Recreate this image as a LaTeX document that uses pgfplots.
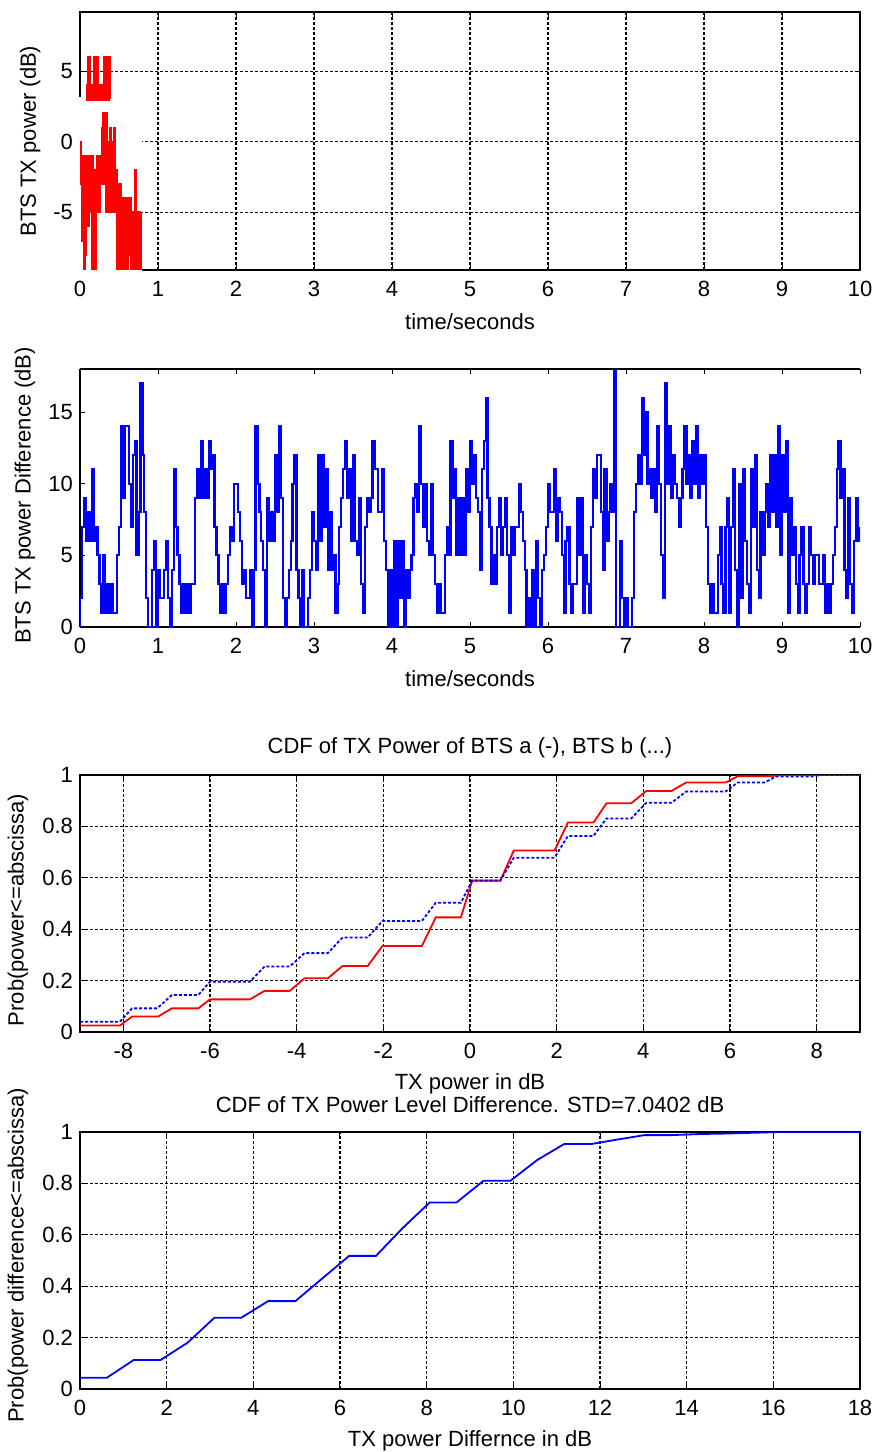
\documentclass[border=0pt]{standalone}
\usepackage{fontspec}
\setmainfont{Liberation Sans}
\usepackage{pgfplots}
\pgfplotsset{compat=1.18}

\pgfplotsset{
  matlab/.style={
    scale only axis, width=390pt, anchor=north west,
    font=\fontsize{11}{13}\selectfont,
    /pgf/number format/assume math mode=true,
    tick align=inside, major tick length=2.5pt,
    tick style={black, line width=0.5pt},
    axis line style={line width=0.65pt},
    grid style={black, line width=0.6pt, dash pattern=on 1.5pt off 1pt},
    xticklabel style={yshift=-2pt},
    x label style={at={(axis description cs:0.5,-0.2)}, anchor=center},
    title style={at={(axis description cs:0.5,1.058)}, anchor=center},
  },
}

\begin{document}
\begin{tikzpicture}
\useasboundingbox (0,0) rectangle (437.5pt,-726pt);

% --- BTS TX power vs time
\begin{axis}[matlab, at={(40pt,-6pt)}, height=129pt,
    xmin=0, xmax=10, ymin=-9.1, ymax=9.2,
    xtick={0,1,...,10}, ytick={-5,0,5}, grid=major, clip=false,
    xlabel={time/seconds}, ylabel={BTS TX power (dB)},
    y label style={at={(axis description cs:-0.064,0.5)}, anchor=center}]
\fill[white] (axis cs:-0.03,-9.35) rectangle (axis cs:0.79,3.2);
\addplot[red, line width=1.1pt, const plot] coordinates {
 (0.08,4) (0.09,3) (0.10,6) (0.11,3) (0.12,6) (0.13,3) (0.14,4) (0.15,3)
 (0.16,4) (0.17,3) (0.18,6) (0.19,3) (0.20,6) (0.21,3) (0.22,6) (0.23,4)
 (0.24,3) (0.25,4) (0.26,3) (0.27,4) (0.28,3) (0.29,4) (0.30,3) (0.31,6)
 (0.32,3) (0.33,6) (0.34,3) (0.35,6) (0.36,3) (0.37,6) (0.38,3)
};
\addplot[red, line width=1.1pt, const plot] coordinates {
 (0.00,0) (0.01,-3) (0.02,-1) (0.03,-7) (0.04,-1) (0.05,-9) (0.06,-2) (0.07,-8)
 (0.08,-1) (0.09,-5) (0.10,-2) (0.11,-6) (0.12,-1) (0.13,-5) (0.14,-2) (0.15,-9)
 (0.16,-1) (0.17,-5) (0.18,-2) (0.19,-9) (0.20,-2) (0.21,-5) (0.22,-1) (0.23,-4)
 (0.24,-2) (0.25,-5) (0.26,-1) (0.27,-3) (0.28,1) (0.29,-3) (0.30,2) (0.31,-2)
 (0.32,1) (0.33,-5) (0.34,2) (0.35,-3) (0.36,0) (0.37,-5) (0.38,1) (0.39,-3)
 (0.40,0) (0.41,-5) (0.42,-1) (0.43,-3) (0.44,1) (0.45,-5) (0.46,-2) (0.47,-9)
 (0.48,-3) (0.49,-8) (0.50,-4) (0.51,-9) (0.52,-3) (0.53,-7) (0.54,-4) (0.55,-9)
 (0.56,-4) (0.57,-8) (0.58,-5) (0.59,-9) (0.60,-4) (0.61,-9) (0.62,-5) (0.63,-8)
 (0.64,-4) (0.65,-9) (0.66,-5) (0.67,-7) (0.68,-5) (0.69,-9) (0.70,-5) (0.71,-2)
 (0.72,-6) (0.73,-9) (0.74,-5) (0.75,-8) (0.76,-5) (0.77,-9) (0.78,-5)
};
\end{axis}

% --- BTS TX power difference vs time
\begin{axis}[matlab, at={(40pt,-184.5pt)}, height=129pt,
    xmin=0, xmax=10, ymin=0, ymax=18,
    xtick={0,1,...,10}, ytick={0,5,10,15},
    axis x line*=box, axis y line*=left,
    xlabel={time/seconds}, ylabel={BTS TX power Difference (dB)},
    y label style={at={(axis description cs:-0.0705,0.51)}, anchor=center}]
\addplot[blue, line width=1.1pt, const plot] coordinates {
 (0,0) (0,2) (0.025,7) (0.05,9) (0.075,6) (0.1,8) (0.125,6) (0.15,11) (0.175,6)
 (0.2,7) (0.225,5) (0.25,3) (0.275,1) (0.3,5) (0.325,1) (0.35,3) (0.375,1)
 (0.4,3) (0.425,1) (0.45,1) (0.475,5) (0.5,7) (0.525,14) (0.55,9) (0.575,14)
 (0.6,14) (0.625,10) (0.65,7) (0.675,12) (0.7,13) (0.725,5) (0.75,8) (0.775,17)
 (0.8,12) (0.825,8) (0.85,2) (0.875,0) (0.9,0) (0.925,4) (0.95,6) (0.975,0)
 (1,4) (1.025,2) (1.05,2) (1.075,4) (1.1,6) (1.125,2) (1.15,0) (1.175,4)
 (1.2,11) (1.225,7) (1.25,5) (1.275,3) (1.3,1) (1.325,3) (1.35,1) (1.375,3)
 (1.4,1) (1.425,3) (1.45,3) (1.475,9) (1.5,11) (1.525,9) (1.55,13) (1.575,9)
 (1.6,11) (1.625,9) (1.65,13) (1.675,11) (1.7,12) (1.725,7) (1.75,5) (1.775,3)
 (1.8,1) (1.825,3) (1.85,1) (1.875,3) (1.9,5) (1.925,7) (1.95,6) (1.975,10)
 (2,10) (2.025,8) (2.05,6) (2.075,3) (2.1,4) (2.125,2) (2.15,2) (2.175,4)
 (2.2,0) (2.225,4) (2.25,14) (2.275,10) (2.3,8) (2.325,6) (2.35,4) (2.375,0)
 (2.4,9) (2.425,6) (2.45,8) (2.475,6) (2.5,12) (2.525,8) (2.55,14) (2.575,9)
 (2.6,2) (2.625,0) (2.65,2) (2.675,4) (2.7,6) (2.725,10) (2.75,12) (2.775,4)
 (2.8,2) (2.825,0) (2.85,4) (2.875,0) (2.9,0) (2.925,2) (2.95,4) (2.975,8)
 (3,6) (3.025,4) (3.05,12) (3.075,6) (3.1,12) (3.125,7) (3.15,11) (3.175,4)
 (3.2,8) (3.225,4) (3.25,5) (3.275,1) (3.3,3) (3.325,7) (3.35,9) (3.375,11)
 (3.4,13) (3.425,9) (3.45,11) (3.475,6) (3.5,12) (3.525,6) (3.55,5) (3.575,9)
 (3.6,3) (3.625,1) (3.65,7) (3.675,9) (3.7,8) (3.725,9) (3.75,13) (3.775,11)
 (3.8,11) (3.825,8) (3.85,8) (3.875,11) (3.9,6) (3.925,4) (3.95,0) (3.975,4)
 (4,0) (4.025,6) (4.05,0) (4.075,6) (4.1,2) (4.125,6) (4.15,0) (4.175,4)
 (4.2,2) (4.225,4) (4.25,5) (4.275,9) (4.3,10) (4.325,8) (4.35,14) (4.375,10)
 (4.4,7) (4.425,10) (4.45,6) (4.475,5) (4.5,10) (4.525,5) (4.55,3) (4.575,1)
 (4.6,3) (4.625,1) (4.65,1) (4.675,5) (4.7,7) (4.725,5) (4.75,13) (4.775,9)
 (4.8,11) (4.825,5) (4.85,9) (4.875,5) (4.9,9) (4.925,5) (4.95,11) (4.975,8)
 (5,13) (5.025,10) (5.05,12) (5.075,9) (5.1,8) (5.125,4) (5.15,11) (5.175,13)
 (5.2,16) (5.225,9) (5.25,7) (5.275,3) (5.3,5) (5.325,3) (5.35,7) (5.375,9)
 (5.4,5) (5.425,7) (5.45,9) (5.475,5) (5.5,1) (5.525,7) (5.55,5) (5.575,7)
 (5.6,7) (5.625,10) (5.65,8) (5.675,6) (5.7,4) (5.725,0) (5.75,2) (5.775,0)
 (5.8,4) (5.825,0) (5.85,6) (5.875,2) (5.9,0) (5.925,4) (5.95,5) (5.975,7)
 (6,10) (6.025,8) (6.05,8) (6.075,11) (6.1,6) (6.125,9) (6.15,8) (6.175,5)
 (6.2,1) (6.225,6) (6.25,7) (6.275,3) (6.3,1) (6.325,3) (6.35,3) (6.375,9)
 (6.4,5) (6.425,9) (6.45,1) (6.475,5) (6.5,3) (6.525,1) (6.55,7) (6.575,11)
 (6.6,9) (6.625,12) (6.65,12) (6.675,8) (6.7,4) (6.725,11) (6.75,6) (6.775,8)
 (6.8,10) (6.825,8) (6.85,18) (6.875,0) (6.9,0) (6.925,6) (6.95,2) (6.975,0)
 (7,2) (7.025,0) (7.05,0) (7.075,2) (7.1,8) (7.125,10) (7.15,12) (7.175,10)
 (7.2,16) (7.225,12) (7.25,15) (7.275,10) (7.3,11) (7.325,9) (7.35,11) (7.375,8)
 (7.4,14) (7.425,10) (7.45,5) (7.475,2) (7.5,17) (7.525,10) (7.55,14) (7.575,9)
 (7.6,12) (7.625,10) (7.65,9) (7.675,7) (7.7,9) (7.725,11) (7.75,14) (7.775,10)
 (7.8,12) (7.825,9) (7.85,13) (7.875,10) (7.9,14) (7.925,9) (7.95,12) (7.975,10)
 (8,12) (8.025,7) (8.05,3) (8.075,1) (8.1,3) (8.125,1) (8.15,1) (8.175,5)
 (8.2,7) (8.225,3) (8.25,1) (8.275,7) (8.3,9) (8.325,1) (8.35,7) (8.375,11)
 (8.4,4) (8.425,0) (8.45,10) (8.475,2) (8.5,11) (8.525,6) (8.55,3) (8.575,1)
 (8.6,11) (8.625,7) (8.65,12) (8.675,4) (8.7,2) (8.725,8) (8.75,5) (8.775,8)
 (8.8,10) (8.825,7) (8.85,12) (8.875,8) (8.9,12) (8.925,7) (8.95,14) (8.975,5)
 (9,12) (9.025,8) (9.05,13) (9.075,1) (9.1,9) (9.125,5) (9.15,7) (9.175,3)
 (9.2,1) (9.225,5) (9.25,7) (9.275,3) (9.3,1) (9.325,3) (9.35,7) (9.375,5)
 (9.4,3) (9.425,5) (9.45,5) (9.475,3) (9.5,3) (9.525,5) (9.55,1) (9.575,3)
 (9.6,1) (9.625,3) (9.65,5) (9.675,7) (9.7,11) (9.725,13) (9.75,9) (9.775,11)
 (9.8,4) (9.825,2) (9.85,9) (9.875,3) (9.9,1) (9.925,6) (9.95,9) (9.975,6)
 (10,7)
};
\end{axis}

% --- CDF of TX power
\begin{axis}[matlab, at={(40pt,-387.5pt)}, height=128.5pt,
    xmin=-9, xmax=9, ymin=0, ymax=1,
    xtick={-8,-6,-4,-2,0,2,4,6,8}, ytick={0,0.2,0.4,0.6,0.8,1}, grid=major,
    title={CDF of TX Power of BTS a (-), BTS b (...)},
    xlabel={TX power in dB}, ylabel={Prob(power<=abscissa)},
    y label style={at={(axis description cs:-0.0795,0.475)}, anchor=center}]
\addplot[red, line width=0.9pt] coordinates {
 (-9,0.025) (-8.08,0.025) (-7.8,0.06) (-7.2,0.06) (-6.88,0.092) (-6.27,0.092)
 (-6.0,0.127) (-5.08,0.127) (-4.74,0.16) (-4.16,0.16) (-3.82,0.209) (-3.28,0.209)
 (-2.94,0.257) (-2.36,0.257) (-2.02,0.335) (-1.11,0.335) (-0.79,0.446) (-0.21,0.446)
 (0.05,0.589) (0.7,0.589) (1.01,0.706) (1.95,0.706) (2.26,0.815) (2.85,0.815)
 (3.15,0.89) (3.72,0.89) (4.07,0.938) (4.65,0.938) (4.99,0.971) (5.9,0.971)
 (6.18,0.995) (6.9,0.995) (7.2,1) (9,1)
};
\addplot[blue, line width=0.9pt, dash pattern=on 1.5pt off 1pt] coordinates {
 (-9,0.04) (-8.08,0.04) (-7.8,0.092) (-7.22,0.092) (-6.88,0.144) (-6.27,0.144)
 (-6.0,0.196) (-5.08,0.196) (-4.74,0.255) (-4.16,0.255) (-3.82,0.307) (-3.28,0.307)
 (-2.94,0.368) (-2.36,0.368) (-2.02,0.432) (-1.11,0.432) (-0.79,0.503) (-0.21,0.503)
 (0.05,0.589) (0.7,0.589) (1.01,0.678) (1.95,0.678) (2.26,0.763) (2.85,0.763)
 (3.15,0.831) (3.72,0.831) (4.07,0.892) (4.65,0.892) (4.99,0.936) (5.9,0.936)
 (6.18,0.971) (6.8,0.971) (7.06,0.994) (7.86,0.994) (8.1,1) (9,1)
};
\end{axis}

% --- CDF of power difference
\begin{axis}[matlab, at={(40pt,-566pt)}, height=128.5pt,
    xmin=0, xmax=18, ymin=0, ymax=1,
    xtick={0,2,...,18}, ytick={0,0.2,0.4,0.6,0.8,1}, grid=major,
    title={CDF of TX Power Level Difference. STD=7.0402 dB},
    xlabel={TX power Differnce in dB}, ylabel={Prob(power difference<=abscissa)},
    y label style={at={(axis description cs:-0.0795,0.52)}, anchor=center}]
\addplot[blue, line width=0.9pt] coordinates {
 (0,0.044) (0.62,0.044) (1.24,0.113) (1.86,0.113) (2.48,0.18) (3.10,0.277)
 (3.72,0.277) (4.34,0.342) (4.97,0.342) (5.59,0.43) (6.21,0.518) (6.83,0.518)
 (7.45,0.627) (8.07,0.726) (8.69,0.726) (9.31,0.81) (9.93,0.81) (10.55,0.891)
 (11.17,0.953) (11.79,0.953) (12.41,0.971) (13.03,0.988) (13.66,0.988)
 (14.28,0.992) (14.90,0.994) (15.52,0.997) (16.14,1) (18,1)
};
\end{axis}
\end{tikzpicture}
\end{document}
